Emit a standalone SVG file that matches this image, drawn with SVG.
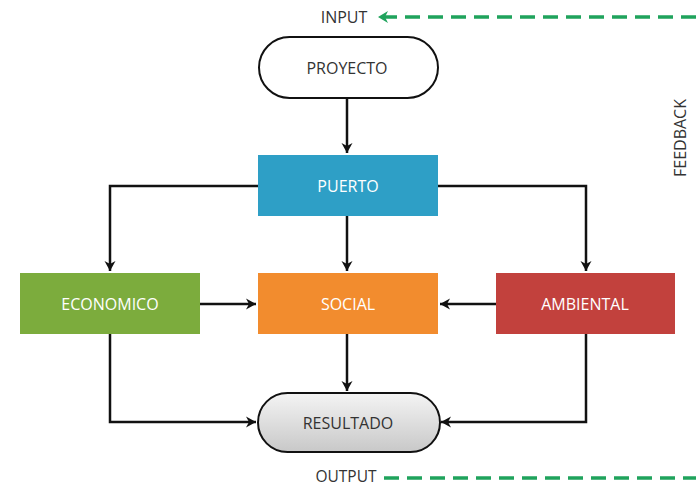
<svg xmlns="http://www.w3.org/2000/svg" width="696" height="487" viewBox="0 0 696 487">
<defs>
<style>
.lbl{font-family:"Open Sans","Liberation Sans",sans-serif;font-size:16px;text-anchor:middle;dominant-baseline:central}
.w{fill:#ffffff}
.k{fill:#333333}
.c{fill:none;stroke:#111;stroke-width:2.5}
.g{fill:none;stroke:#1fa35c;stroke-width:3.5;stroke-dasharray:15 8}
</style>
<marker id="ah" markerWidth="14" markerHeight="14" refX="11" refY="7" orient="auto" markerUnits="userSpaceOnUse">
<path d="M1,1.5 L11,7 L1,12.5 L4,7 Z" fill="#111"/>
</marker>
<marker id="gh" markerWidth="14" markerHeight="14" refX="12" refY="7" orient="auto" markerUnits="userSpaceOnUse">
<path d="M2,1 L12,7 L2,13 L5,7 Z" fill="#1fa35c"/>
</marker>
<linearGradient id="gr" x1="0" y1="0" x2="0" y2="1">
<stop offset="0" stop-color="#f4f4f4"/>
<stop offset="1" stop-color="#c8c8c8"/>
</linearGradient>
</defs>
<rect width="696" height="487" fill="#ffffff"/>
<g id="connectors">
<path class="c" d="M347,98 L347,153" marker-end="url(#ah)"/>
<path class="c" d="M258,186 L110,186 L110,271" marker-end="url(#ah)"/>
<path class="c" d="M438,186 L586,186 L586,271" marker-end="url(#ah)"/>
<path class="c" d="M347,216 L347,271" marker-end="url(#ah)"/>
<path class="c" d="M200,304 L256,304" marker-end="url(#ah)"/>
<path class="c" d="M496,304 L440,304" marker-end="url(#ah)"/>
<path class="c" d="M347,334 L347,391" marker-end="url(#ah)"/>
<path class="c" d="M110,334 L110,422 L256,422" marker-end="url(#ah)"/>
<path class="c" d="M586,334 L586,422 L441,422" marker-end="url(#ah)"/>
<path class="g" d="M696,17 L378,17" marker-end="url(#gh)"/>
<path class="g" d="M384,478 L696,478"/>
</g>
<g id="proyecto">
<rect x="259" y="37" width="179" height="61" rx="30.5" fill="#ffffff" stroke="#111" stroke-width="2"/>
<text class="lbl k" x="347" y="68">PROYECTO</text>
</g>
<g id="puerto">
<rect x="258" y="155" width="180" height="61" fill="#2e9fc6"/>
<text class="lbl w" x="348" y="186">PUERTO</text>
</g>
<g id="economico">
<rect x="20" y="273" width="180" height="61" fill="#7cac3d"/>
<text class="lbl w" x="110" y="304">ECONOMICO</text>
</g>
<g id="social">
<rect x="258" y="273" width="180" height="61" fill="#f28c2e"/>
<text class="lbl w" x="348" y="304">SOCIAL</text>
</g>
<g id="ambiental">
<rect x="496" y="273" width="179" height="61" fill="#c2413d"/>
<text class="lbl w" x="585" y="304">AMBIENTAL</text>
</g>
<g id="resultado">
<rect x="258" y="393" width="182" height="59" rx="29.5" fill="url(#gr)" stroke="#111" stroke-width="2"/>
<text class="lbl k" x="348" y="423">RESULTADO</text>
</g>
<g id="input">
<text class="lbl k" x="344" y="17">INPUT</text>
</g>
<g id="output">
<text class="k" x="346" y="482" font-family="'Open Sans','Liberation Sans',sans-serif" font-size="15.5" text-anchor="middle">OUTPUT</text>
</g>
<g id="feedback">
<text class="lbl k" x="680" y="138" transform="rotate(-90 680 138)">FEEDBACK</text>
</g>
</svg>
